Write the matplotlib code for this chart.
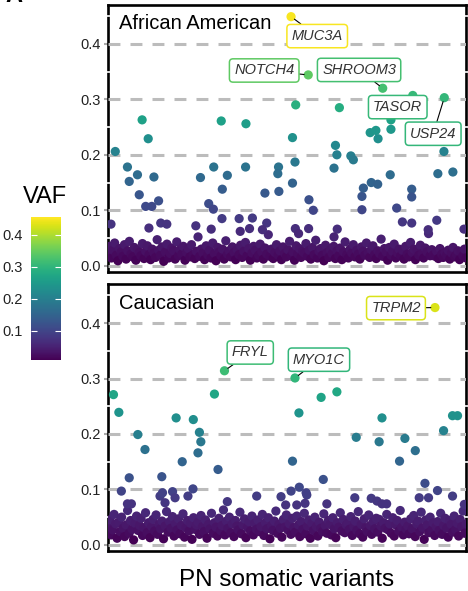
import numpy as np
import matplotlib
matplotlib.use("Agg")
import matplotlib.pyplot as plt
from matplotlib.colors import Normalize

plt.rcParams['font.family'] = ['Liberation Sans', 'DejaVu Sans']

# --- data -------------------------------------------------------------
# jittered position (0..1) and VAF of the variants above the dense band
aa_x = [0.008, 0.020, 0.054, 0.059, 0.082, 0.087, 0.095, 0.112, 0.105, 0.122,
        0.114, 0.128, 0.141, 0.147, 0.164, 0.245, 0.258, 0.281, 0.288, 0.294,
        0.295, 0.316, 0.319, 0.318, 0.333, 0.366, 0.369, 0.384, 0.385, 0.395,
        0.403, 0.438, 0.443, 0.431, 0.476, 0.474, 0.477, 0.515, 0.522, 0.515,
        0.524, 0.523, 0.532, 0.561, 0.573, 0.560, 0.631, 0.635, 0.639, 0.646,
        0.640, 0.631, 0.678, 0.685, 0.709, 0.713, 0.709, 0.732, 0.748, 0.754,
        0.735, 0.753, 0.790, 0.790, 0.788, 0.806, 0.822, 0.848, 0.848, 0.848,
        0.894, 0.918, 0.921, 0.938, 0.963, 0.994]
aa_vaf = [0.075, 0.206, 0.178, 0.152, 0.164, 0.128, 0.263, 0.229, 0.107, 0.107,
          0.068, 0.160, 0.117, 0.077, 0.075, 0.072, 0.159, 0.112, 0.066, 0.102,
          0.178, 0.261, 0.138, 0.085, 0.163, 0.085, 0.062, 0.178, 0.256, 0.067,
          0.086, 0.131, 0.077, 0.065, 0.178, 0.166, 0.134, 0.231, 0.187, 0.149,
          0.290, 0.067, 0.058, 0.119, 0.100, 0.067, 0.176, 0.217, 0.200, 0.285,
          0.066, 0.052, 0.198, 0.191, 0.125, 0.140, 0.101, 0.240, 0.244, 0.229,
          0.150, 0.147, 0.263, 0.246, 0.164, 0.104, 0.079, 0.138, 0.124, 0.077,
          0.065, 0.082, 0.166, 0.206, 0.169, 0.066]

# low-VAF band (x1000), in plotting order across the panel
aa_low = [22, 35, 14, 28, 41, 19, 9, 31, 25, 17, 38, 12, 27, 44, 21, 16, 33, 10, 29, 24,
          18, 40, 13, 26, 36, 20, 11, 30, 23, 15, 47, 28, 19, 34, 8, 25, 39, 14, 22, 32,
          27, 12, 43, 18, 29, 21, 35, 10, 24, 31, 16, 38, 20, 13, 26, 52, 17, 30, 23, 11,
          36, 19, 28, 14, 41, 22, 9, 33, 25, 18, 30, 12, 45, 21, 27, 16, 34, 24, 11, 29,
          20, 37, 15, 26, 42, 18, 31, 10, 23, 35, 28, 14, 19, 39, 25, 12, 32, 21, 56, 17,
          30, 13, 24, 38, 19, 27, 11, 34, 22, 16, 29, 44, 18, 25, 10, 36, 21, 31, 15, 26,
          23, 40, 17, 28, 12, 33, 20, 46, 14, 26, 31, 19, 9, 37, 24, 15, 29, 22, 35, 13,
          27, 18, 32, 11, 25, 43, 20, 14, 30, 23, 38, 16, 28, 21, 12, 34, 26, 19, 41, 24,
          15, 29, 36, 20, 13, 27, 22, 48, 17, 31, 25, 10, 33, 19, 26, 39, 14, 23, 30, 18,
          28, 12, 35, 21, 16, 42, 24, 30, 11, 27, 19, 37, 22, 14, 32, 25, 58, 18, 29, 20,
          17, 26, 13, 31, 21, 15, 24, 19, 28, 12, 23, 33, 16, 20, 27, 11, 25, 18, 30, 14]

aa_genes = ['MUC3A', 'NOTCH4', 'SHROOM3', 'TASOR', 'USP24']
aa_gene_x = [0.511, 0.559, 0.767, 0.851, 0.939]
aa_gene_vaf = [0.449, 0.344, 0.320, 0.307, 0.303]
aa_lab_x = [0.584, 0.436, 0.701, 0.809, 0.908]
aa_lab_y = [0.414, 0.352, 0.353, 0.286, 0.238]

ca_x = [0.015, 0.030, 0.037, 0.059, 0.054, 0.065, 0.083, 0.103, 0.150, 0.145,
        0.152, 0.159, 0.180, 0.187, 0.190, 0.207, 0.223, 0.237, 0.238, 0.255,
        0.259, 0.251, 0.297, 0.307, 0.333, 0.415, 0.483, 0.496, 0.515, 0.511,
        0.533, 0.534, 0.553, 0.555, 0.527, 0.550, 0.595, 0.601, 0.611, 0.639,
        0.693, 0.689, 0.735, 0.757, 0.765, 0.751, 0.765, 0.778, 0.814, 0.829,
        0.858, 0.885, 0.869, 0.895, 0.920, 0.937, 0.962, 0.976, 0.962, 0.995]
ca_vaf = [0.271, 0.239, 0.097, 0.121, 0.074, 0.074, 0.199, 0.172, 0.123, 0.088,
          0.094, 0.076, 0.096, 0.085, 0.229, 0.150, 0.088, 0.101, 0.226, 0.203,
          0.186, 0.166, 0.272, 0.136, 0.078, 0.088, 0.087, 0.072, 0.151, 0.097,
          0.238, 0.104, 0.094, 0.090, 0.072, 0.075, 0.266, 0.118, 0.074, 0.276,
          0.194, 0.085, 0.084, 0.186, 0.229, 0.079, 0.074, 0.074, 0.151, 0.192,
          0.170, 0.111, 0.085, 0.085, 0.098, 0.206, 0.233, 0.233, 0.088, 0.073]

ca_low = [32, 45, 18, 27, 55, 38, 12, 41, 24, 50, 30, 15, 36, 62, 21, 44, 28, 9, 39, 52,
          26, 35, 48, 17, 31, 58, 22, 40, 13, 33, 46, 25, 54, 19, 37, 29, 43, 11, 34, 60,
          23, 42, 30, 51, 16, 38, 27, 47, 20, 35, 56, 14, 31, 44, 25, 39, 10, 49, 28, 36,
          41, 19, 53, 33, 24, 45, 12, 37, 29, 57, 21, 40, 32, 16, 48, 26, 35, 63, 18, 43,
          30, 50, 22, 38, 15, 44, 34, 27, 59, 20, 36, 47, 13, 31, 42, 25, 52, 18, 39, 28,
          45, 24, 33, 55, 17, 40, 29, 49, 11, 35, 26, 43, 61, 21, 37, 30, 14, 46, 32, 54,
          27, 38, 19, 48, 31, 23, 52, 36, 15, 42, 28, 57, 20, 34, 45, 12, 39, 26, 50, 33,
          16, 41, 30, 24, 56, 35, 21, 44, 37, 18, 49, 29, 13, 40, 32, 58, 25, 46, 22, 36,
          39, 28, 51, 17, 33, 43, 26, 60, 20, 37, 14, 47, 31, 24, 54, 35, 19, 42, 29, 48,
          23, 46, 34, 12, 40, 30, 55, 27, 38, 21, 49, 16, 36, 44, 25, 62, 32, 18, 41, 28,
          34, 20, 47, 29, 53, 15, 38, 43, 24, 59, 31, 10, 45, 36, 22, 50, 27, 40, 17, 33,
          42, 26, 57, 19, 35, 48, 30, 14, 44, 37, 23, 52, 28, 39, 16, 46, 33, 61, 21, 38]

ca_genes = ['FRYL', 'MYO1C', 'TRPM2']
ca_gene_x = [0.325, 0.522, 0.913]
ca_gene_vaf = [0.314, 0.301, 0.428]
ca_lab_x = [0.397, 0.589, 0.804]
ca_lab_y = [0.347, 0.334, 0.427]

norm = Normalize(vmin=0.008, vmax=0.454)
cmap = plt.get_cmap('viridis')

fig = plt.figure(figsize=(4.68, 5.91), dpi=100)


def panel(rect, title, x, vaf, low, genes, gx, gv, lx, ly):
    ax = fig.add_axes(rect)
    low = np.array(low) / 1000
    xl = np.linspace(0.0, 1.0, len(low))
    allx = np.concatenate([xl, x, gx])
    allv = np.concatenate([low, vaf, gv])
    ax.scatter(allx, allv, c=allv, cmap=cmap, norm=norm, s=44,
               linewidths=0, zorder=3)
    ax.set_xlim(0, 1)
    ax.set_ylim(-0.011, 0.47)
    for yv in [0.0, 0.1, 0.2, 0.3, 0.4]:
        ax.axhline(yv, color='#bcbcbc', lw=2.2, ls=(0, (3.9, 3.3)), zorder=2.6)
    for yv in [0.05, 0.15, 0.25, 0.35, 0.45]:
        for xs in [(-0.012, 0.006), (0.994, 1.012)]:
            ax.plot(xs, [yv, yv], color='white', lw=1.2, zorder=2.7,
                    clip_on=False)
    ax.set_yticks([0.0, 0.1, 0.2, 0.3, 0.4])
    ax.set_yticklabels(['0.0', '0.1', '0.2', '0.3', '0.4'])
    ax.set_xticks([])
    ax.tick_params(axis='y', length=3, width=1.5, color='#aaaaaa',
                   labelsize=10.5, labelcolor='#222222', pad=2)
    for s in ax.spines.values():
        s.set_linewidth(1.9)
        s.set_color('black')
    ax.text(0.03, 0.965, title, transform=ax.transAxes, fontsize=14.5,
            va='top', ha='left', color='black')
    for g, px, pv, tx, ty in zip(genes, gx, gv, lx, ly):
        col = cmap(norm(pv))
        ax.annotate(g, xy=(px, pv), xytext=(tx, ty), ha='center', va='center',
                    fontsize=10.5, style='italic', color='#333333', zorder=5,
                    bbox=dict(boxstyle='round,pad=0.32,rounding_size=0.25',
                              fc='white', ec=col, lw=1.1),
                    arrowprops=dict(arrowstyle='-', color='black', lw=0.8,
                                    shrinkA=0, shrinkB=3))
    return ax


panel([0.231, 0.540, 0.765, 0.4515], 'African American', aa_x, aa_vaf, aa_low,
      aa_genes, aa_gene_x, aa_gene_vaf, aa_lab_x, aa_lab_y)
panel([0.231, 0.0677, 0.765, 0.4513], 'Caucasian', ca_x, ca_vaf, ca_low,
      ca_genes, ca_gene_x, ca_gene_vaf, ca_lab_x, ca_lab_y)

# colour bar
cax = fig.add_axes([0.066, 0.391, 0.064, 0.241])
sm = plt.cm.ScalarMappable(norm=norm, cmap=cmap)
cb = fig.colorbar(sm, cax=cax, ticks=[0.1, 0.2, 0.3, 0.4])
cb.outline.set_visible(False)
cax.yaxis.set_ticks_position('both')
cax.yaxis.set_label_position('left')
cax.tick_params(axis='y', direction='in', color='white', length=4.5, width=0.8,
                labelleft=True, labelright=False, labelsize=10.5,
                labelcolor='#222222', pad=6)
cax.set_yticklabels(['0.1', '0.2', '0.3', '0.4'])
fig.text(0.097, 0.667, 'VAF', fontsize=17, ha='center', va='center')

fig.text(0.613, 0.019, 'PN somatic variants', fontsize=17.5, ha='center',
         va='center')
# panel letter, cut off at the top edge as in the source figure
fig.text(0.012, 0.988, 'A', fontsize=17, fontweight='bold', ha='left',
         va='bottom')

fig.savefig('out.png', dpi=100)
